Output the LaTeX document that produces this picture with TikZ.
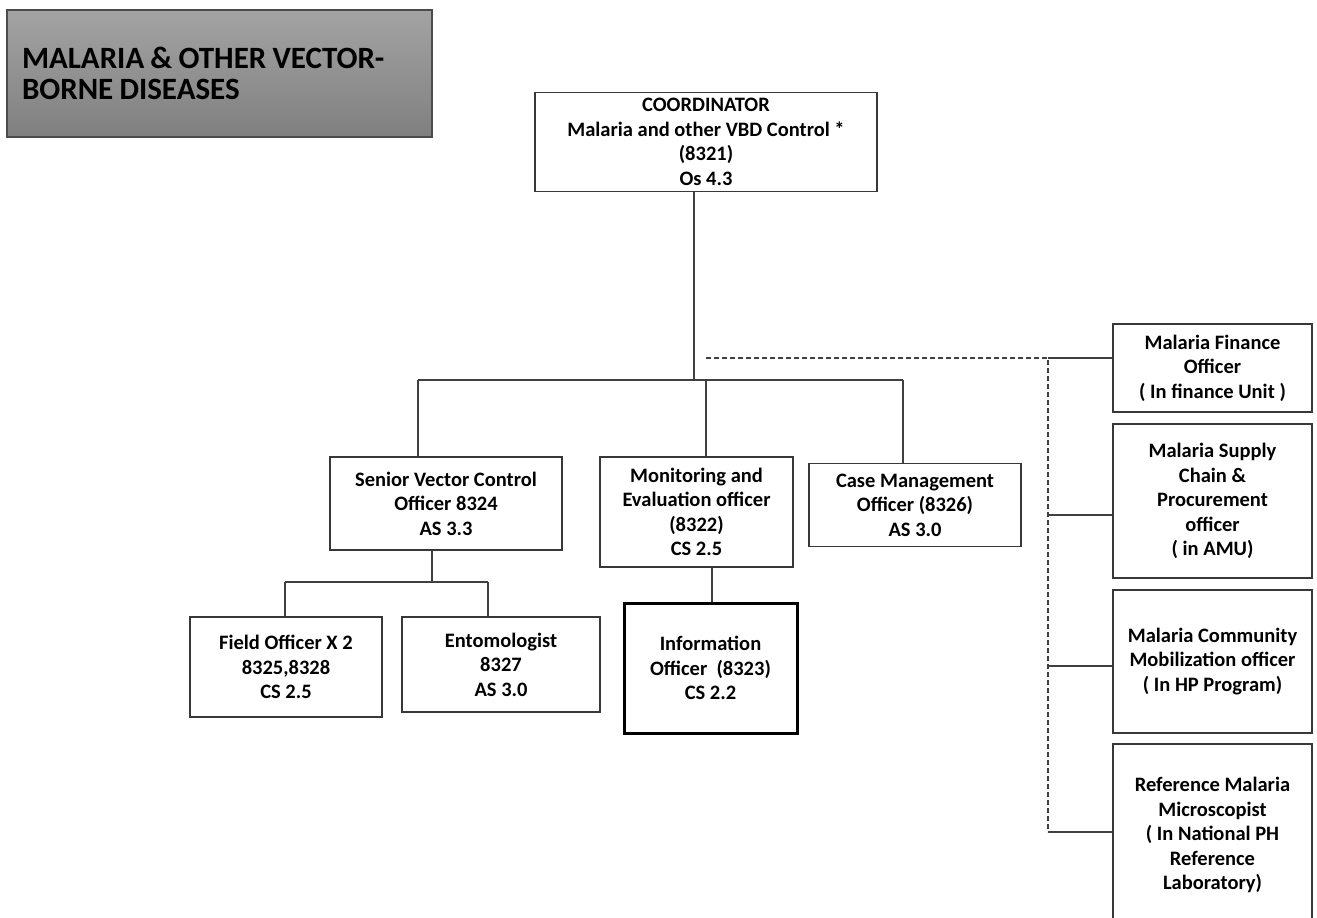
\documentclass[tikz,border=0pt]{standalone}
\usepackage{fontspec}
\setmainfont{Carlito}
\usepackage{tikz}

\begin{document}
\begin{tikzpicture}[x=1pt,y=-1pt,
		post/.style={draw=black!78,line width=1.3pt,fill=white,inner sep=0pt,
			align=center,font=\bfseries\fontsize{20.5}{24.5}\selectfont},
		link/.style={draw=black!75,line width=1.3pt},
		dotted link/.style={link,dash pattern=on 5pt off 3pt}]
		\useasboundingbox (0,0) rectangle (1317,918);

		% draw the title box
		\node[draw=black!70,line width=1.3pt,top color=black!36,bottom color=black!50,
			minimum width=425,minimum height=127,inner xsep=15pt,text width=395,
			align=left,font=\bfseries\fontsize{31}{31}\selectfont] (title) at (219.5,73.5)
			{\spaceskip=0.2em\relax MALARIA \& OTHER VECTOR-\\BORNE DISEASES};

		% draw the coordinator
		\node[post,minimum width=342,minimum height=99] (coord) at (706,142)
			{COORDINATOR\\Malaria and other VBD Control *\\(8321)\\Os 4.3};

		% draw the officers below the coordinator
		\node[post,minimum width=232,minimum height=93] (senior) at (446,503.5)
			{Senior Vector Control\\Officer 8324\\AS 3.3};
		\node[post,minimum width=193,minimum height=110] (mande) at (696.5,512)
			{Monitoring and\\Evaluation officer\\(8322)\\CS 2.5};
		\node[post,minimum width=212,minimum height=83] (case) at (915,505)
			{Case Management\\Officer (8326)\\AS 3.0};

		% the third row
		\node[post,minimum width=192,minimum height=100] (field) at (286,667)
			{Field Officer X 2\\8325,8328\\CS 2.5};
		\node[post,minimum width=198,minimum height=95] (ento) at (501,664.5)
			{Entomologist\\8327\\AS 3.0};
		\node[post,draw=black,line width=3pt,minimum width=173,minimum height=130] (info) at (710.5,668)
			{Information\\Officer\ \ (8323)\\CS 2.2};

		% the officers in other units
		\node[post,minimum width=199,minimum height=88] (finance) at (1212.5,368)
			{Malaria Finance\\Officer\\( In finance Unit )};
		\node[post,minimum width=199,minimum height=154] (supply) at (1212.5,501)
			{Malaria Supply\\Chain \&\\Procurement\\officer\\( in AMU)};
		\node[post,minimum width=199,minimum height=143] (community) at (1212.5,661.5)
			{Malaria Community\\Mobilization officer\\( In HP Program)};
		\node[post,minimum width=199,minimum height=182] (ref) at (1212.5,835)
			{Reference Malaria\\Microscopist\\( In National PH\\Reference\\Laboratory)};

		% the upper bus
		\coordinate (jc) at (694,380);
		\coordinate (jm) at (706,380);
		\coordinate (bus1) at (418,380);
		\coordinate (bus2) at (903,380);
		\draw[link] (coord.south -| jc) -- (jc);
		\draw[link] (bus1) -- (bus2);
		\draw[link] (bus1) -- (bus1 |- senior.north);
		\draw[link] (jm) -- (jm |- mande.north);
		\draw[link] (bus2) -- (bus2 |- case.north);

		% the lower bus
		\coordinate (js) at (432,582);
		\coordinate (bus3) at (285,582);
		\coordinate (bus4) at (488,582);
		\draw[link] (senior.south -| js) -- (js);
		\draw[link] (bus3) -- (bus4);
		\draw[link] (bus3) -- (bus3 |- field.north);
		\draw[link] (bus4) -- (bus4 |- ento.north);
		\coordinate (ji) at (712,0);
		\draw[link] (mande.south -| ji) -- (info.north -| ji);

		% dashed line to the other units
		\coordinate (dstart) at (706,358);
		\coordinate (dtop) at (1048,358);
		\coordinate (dbot) at (1048,832);
		\draw[dotted link] (dstart) -- (dtop) -- (dbot);
		\foreach \n/\y in {finance/358,supply/515,community/666,ref/832} {
			\coordinate (b\n) at (1048,\y);
			\draw[link] (b\n) -- (b\n -| \n.west);
		}
	\end{tikzpicture}
\end{document}
